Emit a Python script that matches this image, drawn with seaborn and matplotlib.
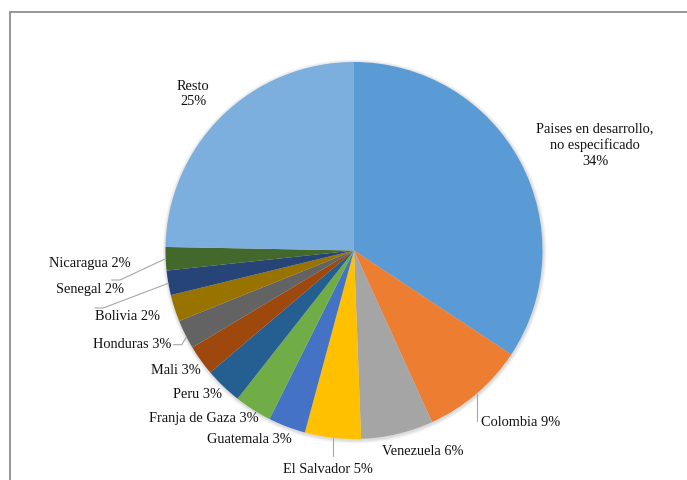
import matplotlib
matplotlib.use("Agg")
import matplotlib.pyplot as plt
from matplotlib.patches import Circle
import seaborn as sns

# ---- data (clockwise from 12 o'clock) ----
categories = ["Paises en desarrollo,\nno especificado", "Colombia", "Venezuela", "El Salvador",
              "Guatemala", "Franja de Gaza", "Peru", "Mali", "Honduras",
              "Bolivia", "Senegal", "Nicaragua", "Resto"]
values = [34.3, 8.9, 6.2, 4.8, 3.2, 3.2, 3.2, 2.6, 2.5, 2.3, 2.1, 2.0, 24.7]
pct_labels = ["34%", "9%", "6%", "5%", "3%", "3%", "3%", "3%", "3%", "2%", "2%", "2%", "25%"]
colors = ["#5B9BD5", "#ED7D31", "#A5A5A5", "#FFC000", "#4472C4", "#70AD47",
          "#255E91", "#9E480E", "#636363", "#997300", "#264478", "#43682B", "#7CAFDD"]

sns.set_theme(style="white")
plt.rcParams["font.family"] = ["Liberation Serif", "DejaVu Serif"]

W, H = 687, 481
fig = plt.figure(figsize=(W / 100, H / 100), dpi=100)
ax = fig.add_axes([0, 0, 1, 1])
ax.set_xlim(0, W)
ax.set_ylim(0, H)
ax.set_aspect("equal")
ax.axis("off")

def Y(y):
    return H - y

cx, cy, r = 354, Y(251.5), 188.5

# soft shadow
for i in range(6):
    ax.add_patch(Circle((cx + 0.5, cy - 1.0), r + 0.6 * (i + 1), color="black",
                        alpha=0.025, lw=0, zorder=1))

ax.pie(values, colors=colors, startangle=90, counterclock=False,
       center=(cx, cy), radius=r, frame=True,
       wedgeprops=dict(linewidth=0, zorder=2))
ax.set_xlim(0, W)
ax.set_ylim(0, H)
ax.axis("off")

fs = 10.4
txt = dict(fontsize=fs, color="#111111")

# labels
ax.text(193, Y(94), categories[12] + "\n" + pct_labels[12], ha="center", va="center",
        multialignment="center", linespacing=1.28, **txt)
ax.text(595, Y(145), categories[0] + "\n" + pct_labels[0], ha="center", va="center",
        multialignment="center", linespacing=1.28, **txt)
left_labels = {1: (481, 423), 2: (382, 452), 3: (283, 470)}
for i, (x, y) in left_labels.items():
    ax.text(x, Y(y), f"{categories[i]} {pct_labels[i]}", ha="left", va="center", **txt)
right_labels = {4: (291.5, 440), 5: (259, 419), 6: (222, 395), 7: (201, 371),
                8: (171.5, 344.5), 9: (159.5, 317), 10: (123.5, 290), 11: (131, 263)}
for i, (x, y) in right_labels.items():
    ax.text(x, Y(y), f"{categories[i]} {pct_labels[i]}", ha="right", va="center", **txt)

# leader lines
lc = dict(color="#A6A6A6", lw=0.8, zorder=3)
leaders = [
    [(476.5, 395), (476.5, 422)],
    [(333, 439), (333, 457)],
    [(173.3, 345.7), (181.7, 345.7), (186.5, 338)],
    [(95, 309), (103.3, 309), (168.3, 284.3)],
    [(111.7, 281), (120, 281), (165, 260)],
]
for pts in leaders:
    ax.plot([p[0] for p in pts], [Y(p[1]) for p in pts], **lc)

# chart frame (left and top edges visible)
ax.plot([10, 10, W], [Y(H + 5), Y(13), Y(13)], color="#8E8E8E", lw=1.3,
        solid_joinstyle="miter", zorder=4)

fig.savefig("out.png", dpi=100, facecolor="white")
